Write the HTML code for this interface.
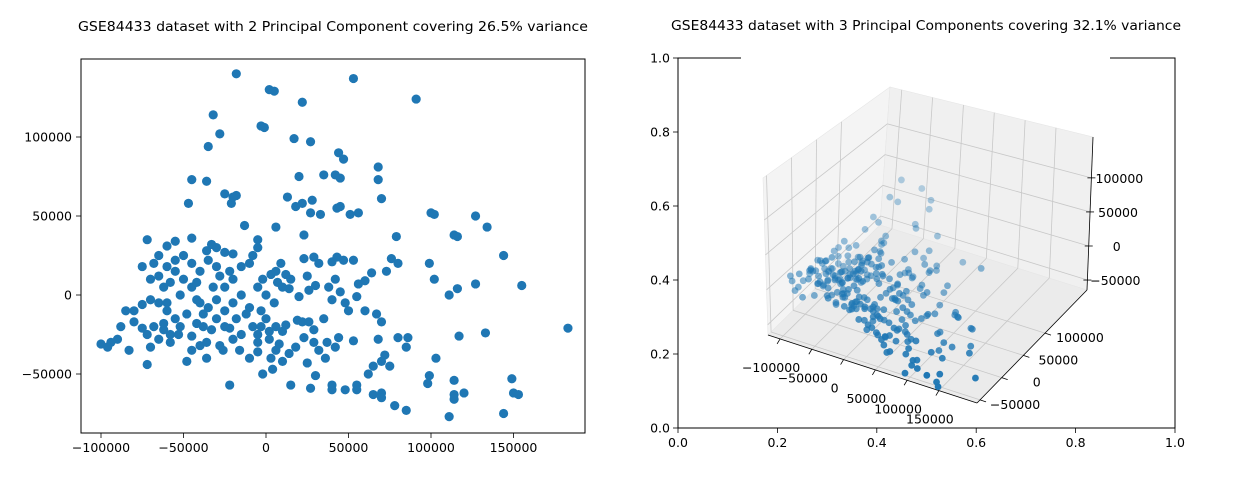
<!DOCTYPE html>
<html><head><meta charset="utf-8"><style>
html,body{margin:0;padding:0;background:#fff;}
svg{display:block;font-family:"DejaVu Sans","Liberation Sans",sans-serif;}
</style></head><body>
<svg id="fig" width="1238" height="480" viewBox="0 0 1238 480" xmlns="http://www.w3.org/2000/svg">
<rect width="1238" height="480" fill="#fff"/>
<text x="333" y="31" text-anchor="middle" font-size="13" textLength="510" lengthAdjust="spacingAndGlyphs">GSE84433 dataset with 2 Principal Component covering 26.5% variance</text>
<text x="926" y="30" text-anchor="middle" font-size="13" textLength="510" lengthAdjust="spacingAndGlyphs">GSE84433 dataset with 3 Principal Components covering 32.1% variance</text>
<g id="left"></g>
<g id="right"></g>
</svg>
<script>
// PC1, PC2 in thousands
const pc12=[[-18,140],[53,137],[2,130],[5,129],[91,124],[22,122],[-32,114],[-3,107],[-1,106],[17,99],[27,97],[-35,94],[-28,102],[44,90],[47,86],[68,81],[68,73],[70,61],[-45,73],[-36,72],[35,76],[42,76],[45,74],[20,75],[-25,64],[-18,63],[-21,58],[-20,62],[18,56],[22,58],[13,62],[28,60],[-47,58],[-13,44],[6,43],[23,38],[43,55],[45,56],[33,51],[27,52],[51,51],[56,52],[100,52],[102,51],[127,50],[134,43],[114,38],[79,37],[-72,35],[-45,36],[-55,34],[-60,31],[-33,32],[-30,30],[-36,28],[-25,27],[-20,26],[-5,35],[-5,30],[9,20],[23,23],[29,24],[32,20],[40,21],[43,24],[47,22],[53,22],[76,23],[80,20],[99,20],[102,10],[116,37],[144,25],[155,6],[116,4],[127,7],[111,0],[183,-21],[117,-26],[133,-24],[103,-40],[99,-51],[98,-56],[114,-54],[114,-63],[114,-66],[120,-62],[149,-53],[150,-62],[153,-63],[144,-75],[111,-77],[85,-73],[78,-70],[65,-63],[70,-62],[70,-65],[55,-57],[55,-60],[48,-60],[40,-60],[40,-57],[27,-59],[30,-51],[25,-43],[15,-57],[4,-47],[-2,-50],[-22,-57],[62,-50],[70,-42],[72,-38],[65,-45],[75,-45],[85,-33],[80,-27],[86,-27],[68,-28],[53,-29],[37,-30],[29,-30],[32,-35],[42,-33],[36,-40],[60,-10],[67,-12],[70,-17],[55,-1],[45,2],[40,-3],[48,-5],[56,7],[60,9],[73,15],[64,14],[35,-15],[42,10],[38,5],[30,6],[26,3],[20,-1],[14,4],[19,-16],[22,-17],[26,-17],[29,-22],[23,-27],[10,-23],[12,-19],[6,-35],[10,-42],[3,-40],[18,-33],[14,-37],[8,-31],[2,-28],[-5,-30],[-8,-20],[-3,-20],[-15,-25],[-20,-28],[-22,-21],[-28,-32],[-33,-22],[-36,-40],[-40,-32],[-45,-35],[-48,-42],[-53,-25],[-58,-30],[-62,-22],[-68,-20],[-72,-25],[-75,-21],[-80,-17],[-80,-10],[-85,-10],[-88,-20],[-90,-28],[-94,-30],[-96,-33],[-100,-31],[-83,-35],[-70,-33],[-65,-28],[-72,-44],[-40,-5],[-35,-8],[-30,-3],[-25,-10],[-20,-5],[-15,0],[-10,-8],[-5,5],[-2,10],[3,13],[7,8],[10,5],[-45,5],[-50,10],[-55,15],[-58,8],[-62,5],[-65,-5],[-70,-3],[-75,-6],[-60,-10],[-55,-15],[-48,-12],[-42,-18],[-38,-20],[-30,-15],[-25,-20],[-18,-15],[-12,-12],[-62,-18],[-52,-20],[-45,-26],[-38,-12],[-32,5],[-28,12],[-22,15],[-15,18],[-10,20],[-40,15],[-45,20],[-50,25],[-68,20],[-65,25],[-60,18],[-55,22],[-35,22],[-30,18],[-25,5],[-20,10],[-8,25],[0,0],[5,-5],[-3,-10],[0,-15],[12,13],[6,15],[15,10],[25,12],[-42,8],[-52,0],[-70,10],[-65,12],[-75,18],[-60,-5],[-58,-25],[-42,-3],[-36,-30],[-26,-35],[-16,-35],[-10,-40],[-5,-36],[6,-20],[2,-23],[-5,-25],[44,-27],[50,-10]];
// PC3 in thousands
const pc3=[60,-30,40,55,-20,10,85,30,25,-10,5,70,60,-15,-5,-25,-30,-40,50,45,0,-10,-5,15,20,35,30,25,-5,0,10,-10,40,25,15,5,-20,-15,-5,0,-25,-20,-40,-35,-50,-45,-30,-35,20,30,25,35,10,15,20,5,0,30,25,10,-5,0,5,-10,-5,-15,-20,-30,-25,-45,-40,-30,-55,-50,-45,-50,-55,-60,-40,-45,-20,-25,-30,-35,-30,-35,-40,-45,-50,-55,-35,-40,-20,-25,-15,-10,-20,-15,-10,-5,-10,-5,0,-5,5,10,0,5,15,-20,-10,-15,-20,-25,-30,-25,-30,-20,-15,-10,-5,-15,-10,-5,-20,-25,-30,-10,-5,0,-15,-20,-25,-30,-35,-10,0,-5,5,0,-5,10,-10,-5,-10,-15,-5,5,0,-5,10,5,0,5,10,0,-5,15,10,5,0,-5,-10,0,5,10,15,20,5,10,15,20,25,20,15,10,5,0,-5,-10,5,10,20,15,-10,-5,0,5,10,15,20,25,30,35,30,25,20,15,10,5,0,-5,10,15,20,25,30,35,40,20,15,10,5,25,30,35,20,15,10,5,0,-5,0,5,10,15,20,25,15,10,5,0,-5,30,35,40,45,50,40,35,30,25,20,15,10,5,0,5,-5,0,10,5,0,-5,10,15,20,25,30,-10,-15,5,0,-5,-10,-15,-20,-10,-5,5,-10,-20];
const xTicks2d=[-100000,-50000,0,50000,100000,150000];
const yTicks2d=[-50000,0,50000,100000];
const xTicks3d=[-100000,-50000,0,50000,100000,150000];
const yTicks3d=[-50000,0,50000,100000];
const zTicks3d=[-50000,0,50000,100000];
const frameTicks=[0,0.2,0.4,0.6,0.8,1.0];

const NS="http://www.w3.org/2000/svg";
function mk(parent,tag,attrs){const e=document.createElementNS(NS,tag);for(const k in attrs)e.setAttribute(k,attrs[k]);parent.appendChild(e);return e;}
function fmt(v){return v<0?"\u2212"+Math.abs(v):String(v);}
const BLUE="#1f77b4";

// ---- Left 2D scatter ----
const L=document.getElementById('left');
const lx=v=>266+v/50000*82.5, ly=v=>295-v/50000*79;
const lbox=mk(L,'rect',{x:81,y:59,width:504,height:374,fill:'none',stroke:'#000','stroke-width':1});


pc12.forEach(p=>{
  const c=mk(L,'circle',{cx:lx(p[0]*1000),cy:ly(p[1]*1000),r:4.6,fill:BLUE});
  
  
});
xTicks2d.forEach(v=>{
  const x=lx(v);
  mk(L,'line',{x1:x,y1:433,x2:x,y2:438,stroke:'#000','stroke-width':0.8});
  const t=mk(L,'text',{x:x,y:452,'text-anchor':'middle','font-size':12.5});
  t.textContent=fmt(v);
  
  
});
yTicks2d.forEach(v=>{
  const y=ly(v);
  mk(L,'line',{x1:76,y1:y,x2:81,y2:y,stroke:'#000','stroke-width':0.8});
  const t=mk(L,'text',{x:72,y:y+4.5,'text-anchor':'end','font-size':12.5});
  t.textContent=fmt(v);
  
  
});

// ---- Right 3D plot ----
const R=document.getElementById('right');
const fx=v=>678+v*497, fy=v=>428-v*370;
const rbox=mk(R,'rect',{x:678,y:58,width:497,height:370,fill:'none',stroke:'#000','stroke-width':1});


mk(R,'rect',{x:741,y:54,width:369,height:8,fill:'#fff'});
frameTicks.forEach(v=>{
  mk(R,'line',{x1:fx(v),y1:428,x2:fx(v),y2:433,stroke:'#000','stroke-width':0.8});
  const t=mk(R,'text',{x:fx(v),y:447,'text-anchor':'middle','font-size':12.5});t.textContent=v.toFixed(1);
  
  
  mk(R,'line',{x1:673,y1:fy(v),x2:678,y2:fy(v),stroke:'#000','stroke-width':0.8});
  const u=mk(R,'text',{x:670,y:fy(v)+4.5,'text-anchor':'end','font-size':12.5});u.textContent=v.toFixed(1);
  
  
});
const XR=[-119000,210000], YR=[-57000,197000], ZR=[-64600,160000];
const C={'000':[768,335],'100':[977,403],'110':[1087,290],'010':[880,225],'001':[763,178],'011':[890,87],'111':[1093,137],'101':[975,235]};
function P(x,y,z){
  const u=(x-XR[0])/(XR[1]-XR[0]),v=(y-YR[0])/(YR[1]-YR[0]),w=(z-ZR[0])/(ZR[1]-ZR[0]);
  let px=0,py=0;
  for(const i of [0,1])for(const j of [0,1])for(const k of [0,1]){
    const wt=(i?u:1-u)*(j?v:1-v)*(k?w:1-w);const c=C[''+i+j+k];px+=wt*c[0];py+=wt*c[1];}
  return [px,py];
}
function poly(pts,fill,name){const e=mk(R,'polygon',{points:pts.map(p=>p.join(',')).join(' '),fill:fill,stroke:'#e6e6e6','stroke-width':0.6});}
poly([C['000'],C['010'],C['011'],C['001']],'#f4f4f4','left-pane');
poly([C['010'],C['110'],C['111'],C['011']],'#f0f0f0','back-pane');
poly([C['000'],C['100'],C['110'],C['010']],'#ebebeb','floor-pane');
function ln(a,b,col,w){mk(R,'line',{x1:a[0],y1:a[1],x2:b[0],y2:b[1],stroke:col,'stroke-width':w});}
const G='#c8c8c8';
xTicks3d.forEach(v=>{ln(P(v,YR[0],ZR[0]),P(v,YR[1],ZR[0]),G,0.8);ln(P(v,YR[1],ZR[0]),P(v,YR[1],ZR[1]),G,0.8);});
yTicks3d.forEach(v=>{ln(P(XR[0],v,ZR[0]),P(XR[1],v,ZR[0]),G,0.8);ln(P(XR[0],v,ZR[0]),P(XR[0],v,ZR[1]),G,0.8);});
zTicks3d.forEach(v=>{ln(P(XR[0],YR[0],v),P(XR[0],YR[1],v),G,0.8);ln(P(XR[0],YR[1],v),P(XR[1],YR[1],v),G,0.8);});
ln(C['000'],C['100'],'#000',0.8);
ln(C['100'],C['110'],'#000',0.8);
ln(C['110'],C['111'],'#000',0.8);
// points sorted back to front
const n=Math.min(pc12.length,pc3.length);
const pts3=[];
for(let i=0;i<n;i++){
  const x=pc12[i][0]*1000,y=pc12[i][1]*1000,z=pc3[i]*1000;
  const u=(x-XR[0])/(XR[1]-XR[0]),v=(y-YR[0])/(YR[1]-YR[0]);
  pts3.push({p:P(x,y,z),d:(u-v)});
}
const dmin=Math.min(...pts3.map(q=>q.d)),dmax=Math.max(...pts3.map(q=>q.d));
pts3.sort((a,b)=>a.d-b.d);
pts3.forEach(q=>{
  const a=0.3+0.7*(q.d-dmin)/(dmax-dmin);
  const c=mk(R,'circle',{cx:q.p[0],cy:q.p[1],r:3.4,fill:BLUE,'fill-opacity':a.toFixed(2)});
  
  
});
xTicks3d.forEach(v=>{
  const a=P(v,YR[0],ZR[0]);ln(a,[a[0]-3,a[1]+5],'#000',0.8);
  const t=mk(R,'text',{x:a[0]-9,y:a[1]+33,'text-anchor':'middle','font-size':12.5});t.textContent=fmt(v);
  
  
});
yTicks3d.forEach(v=>{
  const a=P(XR[1],v,ZR[0]);ln(a,[a[0]+6,a[1]+2],'#000',0.8);
  const t=mk(R,'text',{x:a[0]+35,y:a[1]+9,'text-anchor':'middle','font-size':12.5});t.textContent=fmt(v);
  
  
});
zTicks3d.forEach(v=>{
  const a=P(XR[1],YR[1],v);ln([a[0]-4,a[1]],[a[0]+4,a[1]],'#000',0.8);
  const t=mk(R,'text',{x:a[0]+28,y:a[1]+5,'text-anchor':'middle','font-size':12.5});t.textContent=fmt(v);
  
  
});
</script>
</body></html>
